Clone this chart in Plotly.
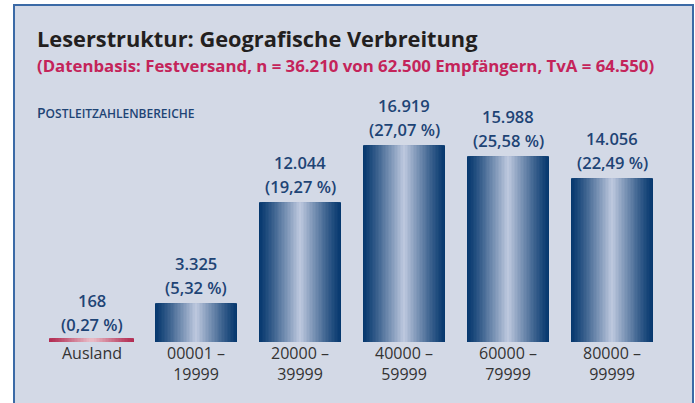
import plotly.graph_objects as go

# --- data ---
categories = ["Ausland", "00001 –<br>19999", "20000 –<br>39999", "40000 –<br>59999",
              "60000 –<br>79999", "80000 –<br>99999"]
empfaenger = [168, 3325, 12044, 16919, 15988, 14056]
anteil_pct = ["0,27", "5,32", "19,27", "27,07", "25,58", "22,49"]

FONT = "Open Sans"
COLORS = {
    "frame_fill": "#d3d9e6",
    "frame_line": "#3b6aa6",
    "title": "#231f20",
    "subtitle": "#c4245a",
    "label": "#1e4475",
    "tick": "#333333",
}
BLUE_DARK, BLUE_LIGHT = (6, 56, 110), (196, 205, 226)
RED_DARK, RED_LIGHT = (178, 44, 82), (234, 192, 202)

N_LAYERS = 28
BAR_WIDTH = 0.79


def _mix(c1, c2, t):
    return "rgb({},{},{})".format(*[round(a + (b - a) * t) for a, b in zip(c1, c2)])


x_pos = list(range(len(categories)))
fig = go.Figure()

# horizontal metallic gradient: stack narrower, lighter bars on top of each other
for k in range(N_LAYERS):
    d = 1 - k / N_LAYERS          # 1 at edge, ->0 at centre
    t = (1 - d) ** 1.15
    cols = [_mix(RED_DARK, RED_LIGHT, t)] + [_mix(BLUE_DARK, BLUE_LIGHT, t)] * (len(categories) - 1)
    fig.add_trace(go.Bar(
        x=x_pos, y=empfaenger, width=BAR_WIDTH * d,
        marker=dict(color=cols, line=dict(color=cols, width=[3, 0, 0, 0, 0, 0])),
        hoverinfo="skip", showlegend=False,
    ))

# value labels above the bars
for x, v, p in zip(x_pos, empfaenger, anteil_pct):
    num = f"{v:,}".replace(",", ".")
    fig.add_annotation(x=x, y=v, yanchor="bottom", yshift=2, showarrow=False,
                       text=f"({p} %)", font=dict(family=FONT, size=16.5, weight=600, color=COLORS["label"]))
    fig.add_annotation(x=x, y=v, yanchor="bottom", yshift=26, showarrow=False,
                       text=num, font=dict(family=FONT, size=16.5, weight=600, color=COLORS["label"]))

W, H = 695, 403
# frame
fig.add_shape(type="rect", xref="paper", yref="paper", x0=14 / W, x1=693 / W, y0=-0.05, y1=1 - 5 / H,
              fillcolor=COLORS["frame_fill"], line=dict(color=COLORS["frame_line"], width=2), layer="below")

fig.add_annotation(xref="paper", yref="paper", x=35 / W, y=1 - 38.5 / H, xanchor="left", yanchor="middle",
                   showarrow=False, text="<b>Leserstruktur: Geografische Verbreitung</b>",
                   font=dict(family=FONT, size=21.8, color=COLORS["title"]))
fig.add_annotation(xref="paper", yref="paper", x=35 / W, y=1 - 65.5 / H, xanchor="left", yanchor="middle",
                   showarrow=False,
                   text="<b>(Datenbasis: Festversand, n = 36.210 von 62.500 Empfängern, TvA = 64.550)</b>",
                   font=dict(family=FONT, size=16.8, color=COLORS["subtitle"]))
fig.add_annotation(xref="paper", yref="paper", x=35 / W, y=1 - 113 / H, xanchor="left", yanchor="middle",
                   showarrow=False,
                   text="P<span style='font-size:12px'>OSTLEITZAHLENBEREICHE</span>",
                   font=dict(family=FONT, size=14, weight=600, color=COLORS["label"]))

fig.update_layout(
    width=W, height=H,
    margin=dict(l=0, r=0, t=0, b=0),
    paper_bgcolor="white", plot_bgcolor="rgba(0,0,0,0)",
    barmode="overlay", bargap=0,
    xaxis=dict(domain=[40 / W, 664 / W], range=[-0.5, 5.5], tickmode="array", tickvals=x_pos,
               ticktext=categories, showgrid=False, zeroline=False, showline=False, ticks="",
               tickfont=dict(family=FONT, size=16, color=COLORS["tick"])),
    yaxis=dict(domain=[(H - 342) / H, (H - 109.2) / H], range=[0, 20000], visible=False),
)

fig.write_html("out.html", config={"displayModeBar": False},
               post_script="document.body.style.margin='0';")
